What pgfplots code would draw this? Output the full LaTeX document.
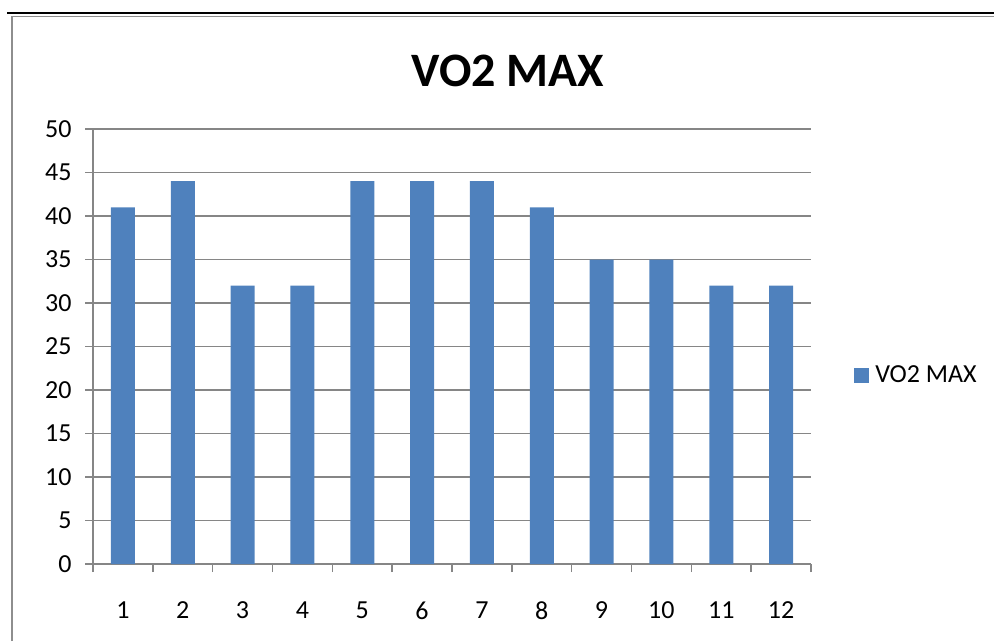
\documentclass[border=0pt]{standalone}
\usepackage{pgfplots}
\pgfplotsset{compat=1.18}
\usepackage{fontspec}
\setmainfont{Carlito}
\definecolor{barblue}{HTML}{4F81BD}
\definecolor{gridgray}{HTML}{868686}
\definecolor{framegray}{HTML}{8E8E8E}
\begin{document}
\begin{tikzpicture}[x=1pt,y=1pt]
\useasboundingbox (0,0) rectangle (994,641);
\draw[black,line width=2.2pt] (7,627.7) -- (994,627.7);
\draw[framegray,line width=1.5pt] (12,0) -- (12,624.5) -- (994,624.5);
\node[font=\fontsize{48}{54}\selectfont\bfseries] at (508,570.5) {VO2 MAX};
\begin{axis}[
  at={(93pt,77pt)}, anchor=origin,
  scale only axis, width=718pt, height=435pt,
  xmin=0.5, xmax=12.5, ymin=0, ymax=50,
  ybar, bar width=24pt, bar shift=0pt,
  ytick={0,5,...,50},
  xtick={1,...,12},
  major x tick style={draw=none},
  minor xtick={0.5,1.5,...,12.5},
  tick align=outside,
  major tick length=8pt, minor tick length=8pt,
  tick style={gridgray,line width=1.5pt},
  axis x line*=bottom, axis y line*=left,
  axis line style={gridgray,line width=1.5pt},
  ymajorgrids, grid style={gridgray,line width=1.5pt},
  every tick label/.append style={font=\fontsize{26}{30}\selectfont},
  /pgf/number format/assume math mode=true,
  yticklabel style={xshift=-10pt},
  xticklabel style={yshift=-26pt},
  legend style={draw=none, at={(1.06,0.434)}, anchor=west, inner sep=0pt,
    font=\fontsize{26}{30}\selectfont, legend cell align=left},
  legend image code/.code={\fill[barblue] (0pt,-7.5pt) rectangle (15pt,7.5pt);},
]
\addplot[fill=barblue, draw=none] coordinates {
(1,41) (2,44) (3,32) (4,32) (5,44) (6,44) (7,44) (8,41) (9,35) (10,35) (11,32) (12,32)};
\addlegendentry{\hspace{4pt}VO2 MAX}
\end{axis}
\end{tikzpicture}
\end{document}
